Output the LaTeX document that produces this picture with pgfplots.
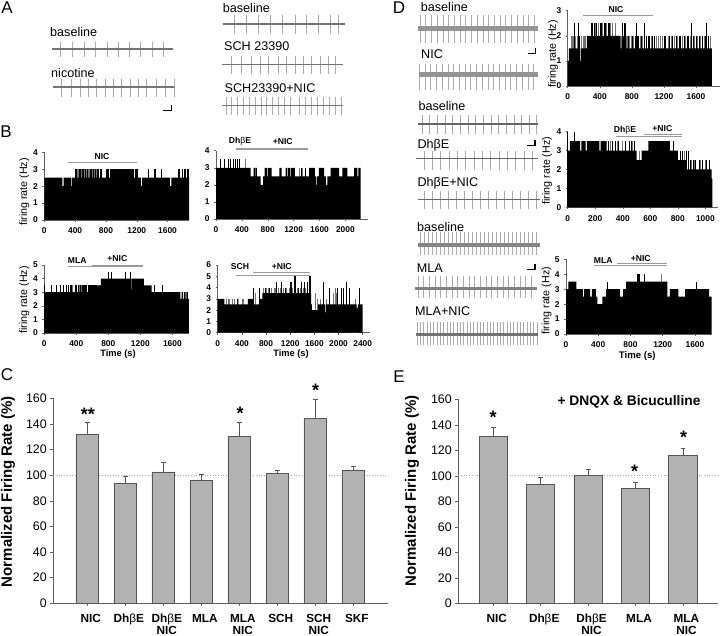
\documentclass[border=0pt]{standalone}
\usepackage{fontspec}
\setmainfont{Liberation Sans}
\usepackage{pgfplots}
\pgfplotsset{compat=1.18}

\definecolor{barfill}{HTML}{B2B2B2}
\definecolor{baredge}{HTML}{555555}
\definecolor{spine}{HTML}{606060}
\definecolor{spike}{HTML}{ABABAB}
\definecolor{cond}{HTML}{9A9A9A}

\newcommand{\fs}[1]{\fontsize{#1}{#1}\selectfont}

\pgfplotsset{
  hist/.style={
    scale only axis, axis x line=bottom, axis y line=left,
    axis line style={-,draw=spine,line width=.6pt},
    enlargelimits=false, ymin=0, xmin=0, clip=false,
    tick align=outside, major tick length=2pt, tick style={spine,line width=.5pt},
    tick label style={font=\bfseries\fs{8.4}},
    /pgf/number format/assume math mode=true,
    /pgf/number format/1000 sep={},
    xticklabel style={yshift=-2.5pt}, yticklabel style={xshift=-1pt},
  },
  area/.style={const plot,fill=black,draw=none},
  cb/.style={ycomb,black,line width=.5pt},
  cg/.style={ycomb,black!55,line width=.6pt},
  barpanel/.style={
    scale only axis, axis x line=bottom, axis y line=left,
    axis line style={-,draw=spine,line width=.7pt},
    ymin=0, ymax=160, ytick={0,20,...,160}, clip=false,
    tick align=outside, major tick length=3pt, tick style={spine,line width=.6pt},
    yticklabel style={font=\fs{12.4}},
    /pgf/number format/assume math mode=true,
    xtick style={spine}, xticklabel style={font=\bfseries\fontsize{11.8}{12}\selectfont,align=center,xshift=3.5pt,yshift=-4.5pt,text depth=0pt},
  },
  gbar/.style={ybar,bar shift=0pt,fill=barfill,draw=baredge,line width=.9pt,
    error bars/.cd, y dir=plus, y explicit,
    error bar style={baredge,line width=.8pt},
    error mark options={baredge,rotate=90,mark size=2.4pt,line width=.8pt}},
  ref100/.style={dotted,black!35,line width=.7pt},
}

% one voltage trace: left, y, right, up, down, band thickness, band grey, spike x positions
\newcommand{\trace}[8]{%
  \begin{axis}[hide axis,scale only axis,enlargelimits=false,clip=false,
    width={#3pt-#1pt},height={#4pt+#5pt},
    xmin=#1,xmax=#3,ymin=-#5,ymax=#4,
    at={(#1pt,-#2pt-#5pt)},anchor=south west]
    \pgfplotsinvokeforeach{#8}{\addplot[spike,line width=.5pt] coordinates {(##1,#4) (##1,-#5)};}
    \addplot[black!#7,line width=#6pt] coordinates {(#1,0) (#3,0)};
  \end{axis}}
\newcommand{\T}[4]{\node[anchor=#3,inner sep=0pt] at (#1pt,-#2pt) {#4};}
\newcommand{\Y}[3]{\node[rotate=90,inner sep=0pt] at (#1pt,-#2pt) {#3};}
\newcommand{\hl}[3]{\draw[cond,line width=.7pt] (#1pt,-#3pt) -- (#2pt,-#3pt);}
\newcommand{\scalebar}[3]{\draw[black,line width=1.2pt] (#1pt,-#3pt) -- (#2pt,-#3pt) -- (#2pt,{-#3pt+5.2pt});}
\newcommand{\lb}{\fs{12.6}}
\newcommand{\sm}{\bfseries\fs{8.6}}
\newcommand{\bt}{{\normalfont β}}

\begin{document}
\begin{tikzpicture}
\useasboundingbox (0pt,0pt) rectangle (720pt,-636pt);

% panel A traces
\trace{51.7}{49}{173.3}{7}{7.7}{1.1}{55}{60,72.3,84,95.7,107.3,118.3,129,140.7,152.3,163.3}
\trace{52.7}{87}{174}{8}{10}{1.1}{55}{61.7,71,80,88.3,96.7,105,113.3,121.7,130,138.3,146.7,156.7,165,174}
\trace{222.7}{23.7}{345}{9}{10}{1.8}{55}{234.3,246,258.3,270.7,282.7,295,306.7,318.3,330,338.3}
\trace{221.7}{64.3}{343.3}{8.5}{9.5}{1.4}{55}{231.7,241.7,251.7,260,268.3,278.3,286.7,295,303.3,311.7,320,328.3,335}
\trace{221.7}{105.7}{343.3}{8.5}{9}{1.4}{55}{226,231.7,237.3,243.3,249.3,255,261,266.7,272.7,278.3,284.3,290,299,305,311.7,317.3,323.3,329.3,335,341.7}

% panel D traces
\trace{417.7}{28.3}{538.3}{13}{15}{5.5}{42}{420,425.7,431.3,437,443,448.7,454.3,460,465.7,471.3,477,483,488.7,494.3,500,505.7,511.3,517,523,528.7,534.3}
\trace{419}{74.7}{538.3}{11}{15}{5}{42}{419.3,425,430.6,436.4,442,448,453.6,459.4,465,470.7,476.3,482,488,493.6,499.4,505,510.7,516.4,522,528,533.7}
\trace{417.7}{124}{538.3}{8.5}{10}{1.2}{60}{422,429.7,437.3,445,452.7,460.3,468,475.7,483.3,491,498.7,506.3,514,521.7,529.3,536}
\trace{416}{159}{538.3}{7.5}{11}{1}{60}{424,432.3,440.6,449,457.3,465.6,474,482.3,490.6,499,507.3,515.6,524,532.3}
\trace{418.3}{199.3}{540}{8.5}{10}{1}{60}{424,432,440,448,456,464,472,480,488,496,504,512,520,528,536}
\trace{417.7}{244.7}{540}{13}{10}{4.2}{48}{420,424,428,432,436,440,444,448,452,456,460,464,468,472,476,480,484,488,492,496,500,504,508,512,516,520,524,528,532,536}
\trace{415}{288.3}{536.7}{12}{10}{3}{50}{418,423.7,429.3,435,440.7,446.3,452,457.7,463.3,469,474.7,480.3,486,491.7,497.3,503,508.7,514.3,520,525.7,531.3}
\trace{416}{334}{537.7}{11.5}{11}{3}{55}{417,420.3,423.7,427,430.3,433.7,437,440.3,443.7,447,450.3,453.7,457,460.3,463.7,467,470.3,473.7,477,480.3,483.7,487,490.3,493.7,497,500.3,503.7,507,510.3,513.7,517,520.3,523.7,527,530.3,533.7,537}

% panel B, NIC
\begin{axis}[hist,width=144.7pt,height=67.7pt,xmax=1878,ymax=4,at={(44.3pt,-220pt)},anchor=south west,
  xtick={0,400,800,1200,1600},ytick={0,1,2,3,4}]
\addplot[cb] coordinates {(400,3) (420,3) (455,3) (470,3) (490,3) (510,3) (530,3) (555,3) (580,3) (600,3) (610,3) (640,3) (665,3) (690,3) (705,3) (720,3) (740,3) (800,3) (815,3) (830,3) (860,3) (870,3) (880,3) (895,3) (905,3) (915,3) (1160,3) (1175,3) (1195,3) (1210,3) (1355,3) (1430,3) (1440,3) (1515,3) (1735,3) (1745,3) (1785,3) (1795,3) (1810,3) (1830,3) (1850,3) (1870,3)};
\addplot[cg] coordinates {(430,3) (445,3) (480,3) (520,3) (545,3) (570,3) (590,3) (625,3) (650,3) (680,3)};
\addplot[area] coordinates {(0,2.5) (235,2) (252,2.5) (350,2) (362,2.5) (930,3) (1150,2.5) (1255,2) (1270,2.5) (1630,2) (1650,2.5) (1878,2.5)} \closedcycle;
\end{axis}

% panel B, DhbE
\begin{axis}[hist,width=151.7pt,height=68.3pt,xmax=2345,ymax=4,at={(216pt,-219pt)},anchor=south west,
  xtick={0,400,800,1200,1600,2000},ytick={0,1,2,3,4}]
\addplot[cb] coordinates {(72,3.5) (124,3.5) (191,3.5) (217,3.5) (268,3.5) (294,3.5) (335,3.5) (360,3.5) (1325,3) (1375,3)};
\addplot[cg] coordinates {(453,3.5) (1290,3) (1340,3)};
\addplot[area] coordinates {(0,3) (535,2.5) (580,3) (600,2.5) (610,3) (630,2.5) (690,2) (730,2.5) (750,3) (790,2.5) (800,3) (860,2.5) (980,3) (1015,2.5) (1075,3) (1100,2.5) (1110,3) (1150,2.5) (1160,3) (1220,2.5) (1440,3) (1530,2.5) (1550,2) (1565,2.5) (1590,3) (1670,2.5) (1700,2) (1720,2.5) (1770,3) (1905,2.5) (1953,3) (2030,2.5) (2134,3) (2185,2.5) (2200,3) (2237,3)} \closedcycle;
\end{axis}

% panel B, MLA
\begin{axis}[hist,width=144.7pt,height=68pt,xmax=1808,ymax=5,at={(44.3pt,-333pt)},anchor=south west,
  xtick={0,400,800,1200,1600},ytick={0,1,2,3,4,5}]
\addplot[cb] coordinates {(5,3.5) (90,3.5) (145,3.5) (195,3.5) (235,3.5) (280,3.5) (300,3.5) (320,3.5) (340,3.5) (385,3.5) (400,3.5) (420,3.5) (445,3.5) (470,3.5) (480,3.5) (490,3.5) (500,3.5) (510,3.5) (520,3.5) (530,3.5) (545,3.5) (555,3.5) (565,3.5) (575,3.5) (585,3.5) (595,3.5) (605,3.5) (615,3.5) (625,3.5) (635,3.5) (645,3.5) (1380,3.5) (1480,3.5) (800,4.5) (840,4.5) (1008,4.5) (1080,4.5)};
\addplot[cg] coordinates {(355,3.5) (435,3.5) (460,3.5)};
\addplot[area] coordinates {(0,3) (150,1) (160,3) (654,3.5) (708,4) (1078,3.2) (1088,4) (1245,3.5) (1342,3) (1700,2.5) (1715,3) (1730,2.5) (1745,3) (1765,2.5) (1775,3) (1795,2.5) (1808,2.5)} \closedcycle;
\end{axis}

% panel B, SCH
\begin{axis}[hist,width=152.3pt,height=67.7pt,xmax=2520,ymax=6,at={(217.7pt,-332.7pt)},anchor=south west,
  xtick={0,400,800,1200,1600,2000,2400},ytick={0,1,2,3,4,5,6}]
\addplot[cg] coordinates {(140,3) (170,3) (200,3) (240,3) (270,3) (400,3) (430,3) (620,3.5) (690,3.5) (760,4) (800,4) (840,4) (880,4) (930,4) (960,4) (1000,4) (1040,4) (1090,4) (1130,4) (1180,4) (1230,4) (1270,4) (1320,4) (1370,4) (1410,4) (1450,4) (1490,4) (1620,3.5) (1650,3) (1690,3) (1800,3) (1920,3.5) (1950,4) (1960,3.5) (2280,3)};
\addplot[cb] coordinates {(590,4) (680,4) (790,4) (860,4) (970,4.5) (1050,4.5) (1120,4) (1200,4.5) (1225,4.5) (1260,5) (1290,5) (1340,4) (1380,4.5) (1440,4.5) (1480,4.5) (1510,5) (1525,5) (1750,4.5) (1840,4) (1970,4) (2040,4) (2080,4) (2120,4.5) (2180,4) (2350,4)};
\addplot[area] coordinates {(0,3) (110,2.5) (320,3) (340,2.5) (500,3) (590,2.5) (700,3) (740,3.5) (1530,3.5) (1545,2.5) (1560,2) (1660,2.5) (1780,1.8) (1795,2.5) (2300,2.2) (2320,2.5) (2400,2.5)} \closedcycle;
\end{axis}

% panel D, NIC
\begin{axis}[hist,width=152.3pt,height=75.3pt,xmax=1900,ymax=3,at={(567.7pt,-86pt)},anchor=south west,
  xtick={0,400,800,1200,1600},ytick={0,1,2,3}]
\addplot[cg] coordinates {(40,2) (55,2) (70,2) (85,2) (100,2) (115,2) (170,2) (190,2) (205,2) (220,2) (670,2) (725,2) (745,2) (770,2) (790,2) (820,2) (900,2) (935,2) (1040,2) (1100,2) (1130,2) (1150,2) (1175,2) (1250,2) (1290,2) (1330,2) (1370,2) (1430,2) (1470,2) (1530,2) (1580,2) (1620,2) (1660,2) (1700,2) (1730,2) (1760,2) (1785,2) (340,2.5) (380,2.5) (430,2.5) (480,2.5) (530,2.5) (560,2.5) (590,2.5)};
\addplot[cb] coordinates {(85,2.5) (130,2.5) (135,2) (150,2) (290,2.5) (310,2.5) (330,2.5) (360,2.5) (400,2.5) (415,2.5) (450,2.5) (465,2.5) (500,2.5) (520,2.5) (680,2.5) (700,2.5) (720,2.5) (855,2.5) (950,2.5) (1540,2.5) (1730,2.5) (690,2) (710,2) (760,2) (800,2) (840,2) (870,2) (885,2) (920,2) (960,2) (980,2) (1000,2) (1020,2) (1060,2) (1085,2) (1200,2) (1220,2) (1270,2) (1310,2) (1350,2) (1390,2) (1410,2) (1450,2) (1490,2) (1510,2) (1560,2) (1600,2) (1640,2) (1680,2) (1715,2) (1750,2)};
\addplot[area] coordinates {(0,1) (15,1.5) (150,1) (160,1.5) (240,2) (640,2) (660,1.5) (1078,1.5) (1079,0) (1088,1.5) (1797,1.5)} \closedcycle;
\end{axis}

% panel D, DhbE
\begin{axis}[hist,width=150.6pt,height=75.6pt,xmax=1094,ymax=4,at={(567.7pt,-207.3pt)},anchor=south west,
  xtick={0,200,400,600,800,1000},ytick={0,1,2,3,4}]
\addplot[cb] coordinates {(0,4) (50,4) (55,3.5) (295,3.5) (325,3.5) (345,3.5) (370,3.5) (420,3.5) (445,3.5) (460,3.5) (480,3.5) (770,3.5) (815,3) (830,3) (860,3) (875,3) (890,2.5) (910,2.5) (930,2.5) (955,2.5) (975,2.5) (1010,2.5) (1025,2.5)};
\addplot[cg] coordinates {(310,3.5) (360,3.5) (395,3.5) (470,3.5) (520,3) (845,3) (900,2.5) (920,2.5) (965,2.5) (1000,2.5)};
\addplot[area] coordinates {(0,3) (15,3.5) (90,3) (100,3.5) (130,3) (140,3.5) (230,3) (240,3.5) (283,3) (500,2.5) (537,3) (586,3.5) (743,3) (800,2.5) (864,2) (1045,1.5) (1051,1.5)} \closedcycle;
\end{axis}

% panel D, MLA
\begin{axis}[hist,width=145.7pt,height=74.7pt,xmax=1808,ymax=5,at={(566pt,-334pt)},anchor=south west,
  xtick={0,400,800,1200,1600},ytick={0,1,2,3,4,5}]
\addplot[cb] coordinates {(45,3.5) (513,3.5) (885,4) (900,4) (915,4) (972,4) (1610,3.5)};
\addplot[cg] coordinates {(750,3.5) (1180,4) (1220,3.5)};
\addplot[area] coordinates {(0,3) (30,3.5) (130,3) (210,2.5) (225,3) (300,2.5) (320,3) (370,2.5) (390,2) (450,2.5) (497,3) (670,2.5) (710,3) (745,3.5) (1258,2.5) (1290,3) (1395,2.5) (1478,3) (1776,2.5) (1808,2.5)} \closedcycle;
\end{axis}

% panel C
\begin{axis}[barpanel,width=334.4pt,height=205pt,at={(53.3pt,-603.3pt)},anchor=south west,
  xmin=-0.895,xmax=7.905,xtick={0,1,2,3,4,5,6,7},
  xticklabels={NIC,Dh\bt E,Dh\bt E\\NIC,MLA,MLA\\NIC,SCH,SCH\\NIC,SKF}]
\addplot[ref100,forget plot] coordinates {(-0.895,100) (7.905,100)};
\addplot[bar width=22.7pt,gbar] coordinates {
  (0,132) +- (0,9)
  (1,93.5) +- (0,5.5)
  (2,102.5) +- (0,7.5)
  (3,96) +- (0,4.5)
  (4,130) +- (0,11.5)
  (5,101) +- (0,2.5)
  (6,144.5) +- (0,14.5)
  (7,103.5) +- (0,3)};
\end{axis}

% panel E
\begin{axis}[barpanel,width=259.7pt,height=204pt,at={(458.3pt,-603.3pt)},anchor=south west,
  xmin=-0.738,xmax=4.74,xtick={0,1,2,3,4},
  xticklabels={NIC,Dh\bt E,Dh\bt E\\NIC,MLA,MLA\\NIC}]
\addplot[ref100,forget plot] coordinates {(-0.738,100) (4.74,100)};
\addplot[bar width=28.3pt,gbar] coordinates {
  (0,131) +- (0,7)
  (1,93.3) +- (0,5.5)
  (2,99.9) +- (0,5.1)
  (3,90.2) +- (0,4.4)
  (4,116) +- (0,5.6)};
\end{axis}

% panel letters
\T{7}{8}{center}{\fs{17}A}
\T{6}{132}{center}{\fs{17}B}
\T{7}{375}{center}{\fs{17}C}
\T{399}{7.5}{center}{\fs{17}D}
\T{399}{377}{center}{\fs{17}E}

% trace labels
\T{50}{32}{west}{\lb baseline}
\T{51}{73}{west}{\lb nicotine}
\T{222.7}{8}{west}{\lb baseline}
\T{224}{46}{west}{\lb SCH 23390}
\T{224.5}{88}{west}{\lb SCH23390+NIC}
\T{420.7}{7}{west}{\lb baseline}
\T{421}{54}{west}{\lb NIC}
\T{418.3}{105.7}{west}{\lb baseline}
\T{417.3}{145.7}{west}{\lb Dh\bt E}
\T{417.3}{183.3}{west}{\lb Dh\bt E+NIC}
\T{417}{227.3}{west}{\lb baseline}
\T{416.7}{267.7}{west}{\lb MLA}
\T{415}{311}{west}{\lb MLA+NIC}

% scale bars
\scalebar{163.3}{171.7}{110.3}
\scalebar{527.7}{535.7}{53.3}
\scalebar{526.7}{535}{145.7}
\scalebar{527.3}{535}{269.3}

% condition bars
\T{102}{156.7}{center}{\sm NIC}
\hl{67.7}{136.7}{162.7}
\T{240}{141.7}{center}{\sm Dh\bt E}
\T{282.7}{141.7}{center}{\sm +NIC}
\draw[cond,line width=1.2pt] (235.7pt,-149pt) -- (308.3pt,-149pt);
\T{77.3}{260.7}{center}{\sm MLA}
\T{117.3}{259}{center}{\sm +NIC}
\hl{67.7}{143.3}{266.7}
\hl{91.7}{143.3}{265}
\T{240}{266.7}{center}{\sm SCH}
\T{281.7}{266.7}{center}{\sm +NIC}
\hl{236}{310}{275}
\hl{253.3}{310}{272.7}
\T{616}{9.7}{center}{\sm NIC}
\hl{583}{652.7}{15.7}
\T{625}{130}{center}{\sm Dh\bt E}
\T{662.3}{129}{center}{\sm +NIC}
\hl{615.7}{681.7}{136.7}
\hl{644}{681.7}{134.7}
\T{603.3}{260.7}{center}{\sm MLA}
\T{640.7}{258.3}{center}{\sm +NIC}
\hl{594}{666.7}{265}
\hl{617.3}{666.7}{263.3}

% axis titles
\Y{24.3}{192}{\fs{10.7}firing rate (Hz)}
\Y{24.3}{300}{\fs{10.7}firing rate (Hz)}
\Y{553}{54}{\fs{10.7}firing rate (Hz)}
\Y{547}{170.7}{\fs{10.7}firing rate (Hz)}
\Y{546.7}{300.8}{\fs{10.7}firing rate (Hz)}
\T{118}{354}{center}{\bfseries\fs{9.3}Time (s)}
\T{291}{354}{center}{\bfseries\fs{9.3}Time (s)}
\T{637.3}{355.7}{center}{\bfseries\fs{9.6}Time (s)}
\Y{8}{491.7}{\bfseries\fs{15}Normalized Firing Rate (\%)}
\Y{412}{491}{\bfseries\fs{15}Normalized Firing Rate (\%)}
\T{629}{401.7}{center}{\bfseries\fs{13.8}+ DNQX \& Bicuculline}

% significance marks
\T{88}{420.5}{base}{\bfseries\fs{18}**}
\T{240}{419.5}{base}{\bfseries\fs{18}*}
\T{315.6}{396.5}{base}{\bfseries\fs{18}*}
\T{493}{423.5}{base}{\bfseries\fs{18}*}
\T{634.7}{477}{base}{\bfseries\fs{18}*}
\T{683.7}{443.5}{base}{\bfseries\fs{18}*}
\end{tikzpicture}
\end{document}
